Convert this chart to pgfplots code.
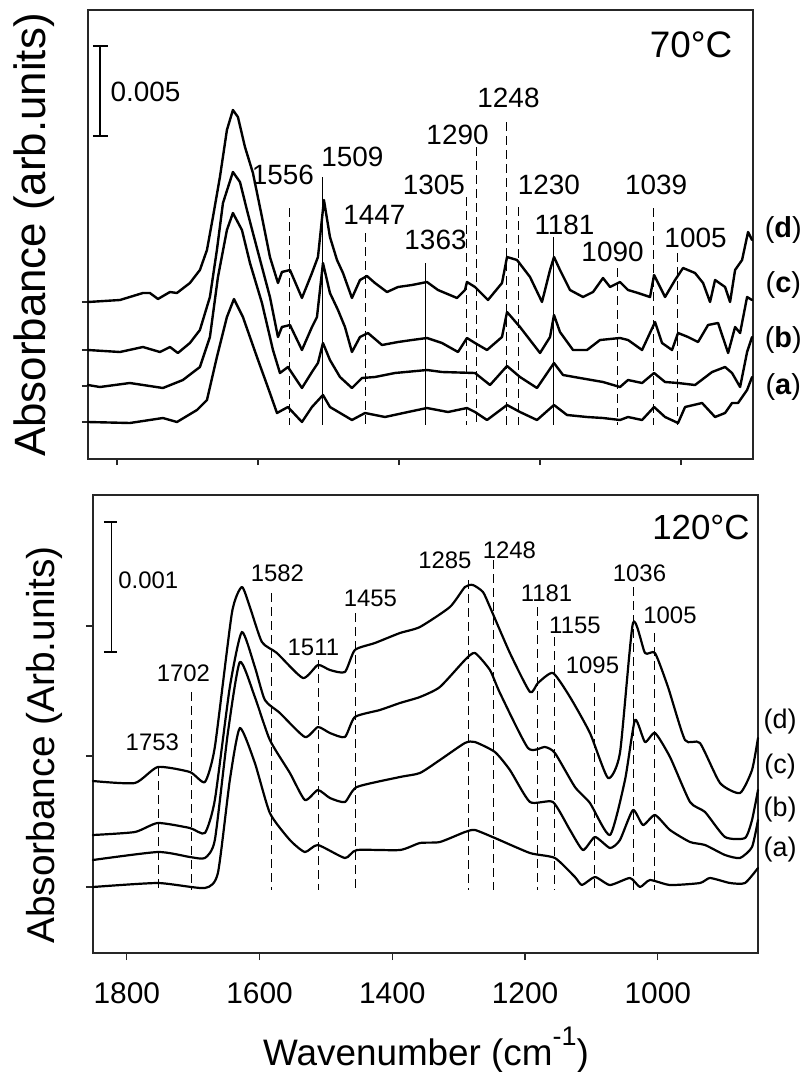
\documentclass[border=0pt]{standalone}
\usepackage{pgfplots}
\pgfplotsset{compat=1.18}
\usepackage{fontspec}
\setmainfont{Liberation Sans}
\newcommand{\fs}[1]{\fontsize{#1}{#1}\selectfont}

\begin{document}
\begin{tikzpicture}
\useasboundingbox (0bp,0bp) rectangle (807bp,-1072bp);

\pgfplotsset{
  spec/.style={
    scale only axis, x dir=reverse, clip=false,
    axis line style={black!85, line width=1.3bp},
    tick style={black!85, line width=1.2bp},
    tick align=outside, major tick length=7bp,
    xtick pos=bottom, ytick pos=left,
    xtick={1000,1200,1400,1600,1800},
    yticklabels={},
    /pgf/number format/1000 sep={},
    /pgf/number format/assume math mode=true,
  },
  crv/.style={black, line width=2.4bp, line join=round, line cap=round, no marks},
  dsh/.style={black, line width=0.95bp, dash pattern=on 9bp off 5bp, no marks},
  sld/.style={black, line width=0.95bp, no marks},
}

%================ TOP PANEL (70 C) ================
\begin{axis}[spec,
  at={(88bp,-459bp)}, anchor=south west,
  width=665bp, height=449bp,
  xmin=898, xmax=1841, ymin=0, ymax=449,
  xticklabels={},
  ytick={37,73,109,157}, major tick length=6bp,
]
% (d)
\addplot[crv] coordinates {
(1841,157)(1795.7,159)(1763.1,166)(1753.2,166)(1741.8,160)(1724.8,167)(1714.9,166)
(1696.5,176)(1682.3,189)(1672.3,209)(1663.8,242)(1653.9,282)(1644.0,329)(1635.5,349)
(1628.4,342)(1618.4,312)(1607.1,286)(1594.3,242)(1583.0,202)(1571.6,176)(1566.0,187)
(1554.6,189)(1537.6,161)(1523.4,186)(1514.9,202)(1506.4,259)(1497.9,222)(1487.9,199)
(1479.4,186)(1466.7,161)(1455.3,179)(1445.4,183)(1434.1,176)(1417.0,167)(1401.4,172)
(1381.6,174)(1360.3,177)(1344.7,169)(1317.7,161)(1306.4,169)(1303.6,177)(1292.2,172)
(1273.8,159)(1253.9,176)(1246.8,202)(1232.6,199)(1214.2,182)(1197.2,157)(1185.8,189)
(1180.2,202)(1171.7,189)(1157.5,169)(1139.0,162)(1124.8,167)(1110.7,181)(1100.7,172)
(1086.6,177)(1075.2,169)(1061.0,166)(1044.0,162)(1038.3,184)(1022.7,162)(1008.5,179)
(997.2,191)(980.2,186)(968.8,176)(958.9,157)(951.8,179)(937.6,172)(930.5,157)
(923.4,189)(913.5,199)(905.0,227)(899.3,219)};
% (c)
\addplot[crv] coordinates {
(1841,109)(1795.7,107)(1763.1,112)(1739.0,107)(1724.8,112)(1713.5,106)(1696.5,116)
(1682.3,129)(1668.1,162)(1658.2,209)(1649.6,256)(1635.5,287)(1625.5,277)(1615.6,249)
(1607.1,226)(1594.3,192)(1583.0,162)(1571.6,122)(1566.0,132)(1554.6,134)(1537.6,109)
(1523.4,132)(1516.3,142)(1507.8,196)(1497.9,166)(1486.5,149)(1476.6,132)(1466.7,107)
(1455.3,122)(1444.0,126)(1424.1,114)(1401.4,117)(1381.6,119)(1360.3,121)(1339.0,116)
(1316.3,107)(1303.6,121)(1292.2,116)(1275.2,109)(1253.9,122)(1246.8,147)(1228.4,132)
(1214.2,119)(1200.0,106)(1185.8,122)(1180.2,144)(1171.7,127)(1153.2,109)(1133.4,109)
(1114.9,119)(1086.6,121)(1075.2,119)(1055.3,109)(1036.9,137)(1027.0,116)(1012.8,109)
(1004.3,126)(990.1,122)(975.9,117)(961.7,134)(947.5,136)(933.3,106)(923.4,132)
(916.3,126)(906.4,162)(899.3,159)};
% (b)
\addplot[crv] coordinates {
(1841,74)(1824.1,72)(1781.6,76)(1734.8,71)(1706.4,79)(1682.3,92)(1668.1,122)
(1656.7,182)(1644.0,229)(1635.5,246)(1622.7,229)(1611.3,196)(1594.3,156)(1578.7,109)
(1568.8,86)(1557.5,92)(1537.6,71)(1523.4,87)(1514.9,96)(1507.8,116)(1497.9,99)
(1483.7,82)(1466.7,71)(1452.5,81)(1434.1,82)(1405.7,86)(1360.3,89)(1339.0,87)
(1292.2,86)(1270.9,74)(1246.8,93)(1228.4,82)(1204.3,71)(1180.2,96)(1167.4,84)
(1143.3,81)(1110.7,77)(1086.6,72)(1075.2,79)(1055.3,76)(1038.3,86)(1022.7,77)
(1004.3,76)(980.2,74)(956.0,87)(937.6,92)(927.7,86)(916.3,72)(906.4,107)(899.3,122)};
% (a)
\addplot[crv] coordinates {
(1841,37)(1781.6,36)(1734.8,41)(1714.9,37)(1686.5,49)(1672.3,59)(1658.2,102)
(1644.0,142)(1634.0,160)(1621.3,142)(1601.4,102)(1583.0,66)(1573.0,46)(1557.5,52)
(1537.6,37)(1523.4,52)(1507.8,64)(1497.9,52)(1466.7,39)(1448.2,46)(1419.9,42)
(1387.2,47)(1360.3,51)(1330.5,47)(1303.6,51)(1292.2,47)(1275.2,39)(1246.8,54)
(1228.4,47)(1204.3,39)(1180.2,54)(1161.7,44)(1133.4,42)(1110.7,41)(1086.6,39)
(1075.2,42)(1055.3,39)(1038.3,52)(1022.7,42)(1004.3,36)(994.3,52)(970.2,56)
(951.8,42)(937.6,46)(927.7,56)(919.2,56)(906.4,69)(899.3,82)};
% marker lines
\addplot[dsh] coordinates {(1556,251)(1556,34)};
\addplot[sld] coordinates {(1509,282)(1509,34)};
\addplot[dsh] coordinates {(1447,226)(1447,34)};
\addplot[sld] coordinates {(1363,196)(1363,34)};
\addplot[dsh] coordinates {(1305,262)(1305,34)};
\addplot[dsh] coordinates {(1290,312)(1290,34)};
\addplot[dsh] coordinates {(1248,337)(1248,34)};
\addplot[dsh] coordinates {(1230,252)(1230,34)};
\addplot[sld] coordinates {(1181,222)(1181,34)};
\addplot[dsh] coordinates {(1090,191)(1090,34)};
\addplot[dsh] coordinates {(1039,251)(1039,34)};
\addplot[dsh] coordinates {(1005,206)(1005,34)};
% scale bar
\addplot[black, line width=1.2bp, no marks] coordinates {(1824.1,413)(1824.1,323)};
\addplot[black, line width=1.2bp, no marks] coordinates {(1834,413)(1813,413)};
\addplot[black, line width=1.2bp, no marks] coordinates {(1834,323)(1813,323)};
\node[anchor=west, font=\fs{28}] at (axis cs:1814,367) {0.005};
\node[font=\fs{37}] at (axis cs:985.8,414) {70°C};
% labels
\begin{scope}[every node/.style={font=\fs{28}, inner sep=0pt}]
\node at (axis cs:1564.5,284) {1556};
\node at (axis cs:1466,302) {1509};
\node at (axis cs:1434.8,244) {1447};
\node at (axis cs:1348.2,219) {1363};
\node at (axis cs:1350.4,274) {1305};
\node at (axis cs:1317,324) {1290};
\node at (axis cs:1244.7,361) {1248};
\node at (axis cs:1187.3,274) {1230};
\node at (axis cs:1165.3,234) {1181};
\node at (axis cs:1097.2,207) {1090};
\node at (axis cs:1035.5,274) {1039};
\node at (axis cs:979.5,221) {1005};
\end{scope}
\begin{scope}[every node/.style={font=\fs{29}, inner sep=0pt}]
\node at (axis cs:855,229) {(\textbf{d})};
\node at (axis cs:855,174) {(\textbf{c})};
\node at (axis cs:855,119) {(\textbf{b})};
\node at (axis cs:855,72) {(\textbf{a})};
\end{scope}
\end{axis}

%================ BOTTOM PANEL (120 C) ================
\begin{axis}[spec,
  at={(93bp,-953bp)}, anchor=south west,
  width=665bp, height=458bp,
  xmin=849, xmax=1851, ymin=0, ymax=458,
  ytick={66,197,327},
  xticklabel style={font=\fs{30}, yshift=-19bp},
]
% (d)
\addplot[crv, line width=2.2bp, smooth, tension=0.35] coordinates {
(1851.2,172)(1787.9,170)(1753.3,186)(1705.0,181)(1682.4,171)(1667.4,206)(1641.7,340)
(1626.7,366)(1614.6,346)(1596.5,311)(1573.9,300)(1534.7,275)(1512.1,288)(1494.0,283)
(1471.4,281)(1456.4,303)(1426.2,310)(1388.5,320)(1358.4,326)(1313.2,346)(1290.6,366)
(1278.5,368)(1263.4,361)(1252.9,346)(1222.8,300)(1192.6,261)(1180.6,270)(1158.0,280)
(1132.3,256)(1102.2,220)(1075.0,175)(1057.0,200)(1037.4,330)(1019.3,300)(1004.2,300)
(984.6,266)(959.0,213)(936.4,210)(906.2,170)(876.1,160)(858.0,183)(849.0,215)};
% (c)
\addplot[crv, line width=2.2bp, smooth, tension=0.35] coordinates {
(1851.2,118)(1787.9,121)(1753.3,130)(1705.0,125)(1682.4,120)(1667.4,153)(1644.8,266)
(1626.7,321)(1607.1,286)(1592.0,253)(1569.4,240)(1531.7,216)(1512.1,226)(1494.0,220)
(1471.4,216)(1456.4,236)(1418.7,243)(1388.5,250)(1358.4,256)(1328.3,266)(1290.6,293)
(1275.5,300)(1252.9,283)(1237.8,260)(1195.6,205)(1170.0,206)(1155.0,200)(1124.8,166)
(1102.2,150)(1072.0,118)(1049.4,173)(1034.3,233)(1019.3,211)(1004.2,220)(981.6,196)
(951.4,151)(928.8,141)(898.7,116)(868.6,115)(858.0,133)(849.0,163)};
% (b)
\addplot[crv, line width=2.2bp, smooth, tension=0.35] coordinates {
(1851.2,93)(1753.3,101)(1705.0,96)(1682.4,95)(1667.4,113)(1647.8,220)(1629.7,291)
(1607.1,256)(1584.5,213)(1554.3,180)(1531.7,153)(1512.1,163)(1494.0,155)(1471.4,151)
(1453.4,166)(1388.5,176)(1358.4,180)(1328.3,193)(1290.6,210)(1275.5,211)(1245.4,201)
(1222.8,183)(1192.6,151)(1158.0,151)(1132.3,123)(1112.7,103)(1094.6,116)(1072.0,105)
(1057.0,113)(1037.4,143)(1022.3,128)(1004.2,138)(981.6,123)(951.4,111)(928.8,108)
(898.7,98)(876.1,95)(858.0,106)(849.0,133)};
% (a)
\addplot[crv, line width=2.2bp, smooth, tension=0.35] coordinates {
(1851.2,66)(1753.3,70)(1682.4,65)(1662.8,80)(1644.8,173)(1629.7,225)(1607.1,190)
(1584.5,140)(1554.3,113)(1531.7,101)(1512.1,108)(1471.4,95)(1453.4,103)(1388.5,103)
(1358.4,110)(1328.3,111)(1290.6,121)(1275.5,123)(1245.4,115)(1192.6,100)(1155.0,95)
(1124.8,76)(1114.2,68)(1094.6,76)(1072.0,68)(1041.9,75)(1026.8,66)(1011.7,73)
(981.6,68)(936.4,70)(921.3,75)(891.2,70)(868.6,70)(849.0,85)};
% marker lines
\addplot[dsh] coordinates {(1753,186)(1753,63)};
\addplot[dsh] coordinates {(1702,261)(1702,63)};
\addplot[dsh] coordinates {(1582,360)(1582,63)};
\addplot[dsh] coordinates {(1511,293)(1511,63)};
\addplot[dsh] coordinates {(1455,340)(1455,63)};
\addplot[dsh] coordinates {(1285,373)(1285,63)};
\addplot[dsh] coordinates {(1248,393)(1248,63)};
\addplot[dsh] coordinates {(1181,346)(1181,63)};
\addplot[dsh] coordinates {(1155,316)(1155,63)};
\addplot[dsh] coordinates {(1095,270)(1095,63)};
\addplot[dsh] coordinates {(1036,366)(1036,63)};
\addplot[dsh] coordinates {(1005,320)(1005,63)};
% scale bar
\addplot[black, line width=1.2bp, no marks] coordinates {(1822.6,431)(1822.6,301)};
\addplot[black, line width=1.2bp, no marks] coordinates {(1834.7,431)(1815.1,431)};
\addplot[black, line width=1.2bp, no marks] coordinates {(1834.7,301)(1815.1,301)};
\node[anchor=west, font=\fs{24}] at (axis cs:1818,373) {0.001};
\node[font=\fs{35}] at (axis cs:934.9,426) {120°C};
\begin{scope}[every node/.style={font=\fs{24}, inner sep=0pt}]
\node at (axis cs:1761.6,211) {1753};
\node at (axis cs:1714.8,280) {1702};
\node at (axis cs:1573.2,380) {1582};
\node at (axis cs:1518.9,306) {1511};
\node at (axis cs:1433,355) {1455};
\node at (axis cs:1320.7,393) {1285};
\node at (axis cs:1223.5,403) {1248};
\node at (axis cs:1167.7,360) {1181};
\node at (axis cs:1124.8,328) {1155};
\node at (axis cs:1098.4,288) {1095};
\node at (axis cs:1027.6,380) {1036};
\node at (axis cs:981.6,338) {1005};
\end{scope}
\begin{scope}[every node/.style={font=\fs{27}, inner sep=0pt}]
\node at (axis cs:815.8,231) {(d)};
\node at (axis cs:815.8,186) {(c)};
\node at (axis cs:815.8,143) {(b)};
\node at (axis cs:815.8,103) {(a)};
\end{scope}
\end{axis}

% axis titles
\node[rotate=90, font=\fs{44}, inner sep=0pt] at (34bp,-235bp) {Absorbance (arb.units)};
\node[rotate=90, font=\fs{39}, inner sep=0pt] at (44bp,-745bp) {Absorbance (Arb.units)};
\node[font=\fs{37}, inner sep=0pt] at (426bp,-1050bp) {Wavenumber (cm\raisebox{0.55em}{\fs{27}-1})};
\end{tikzpicture}
\end{document}
